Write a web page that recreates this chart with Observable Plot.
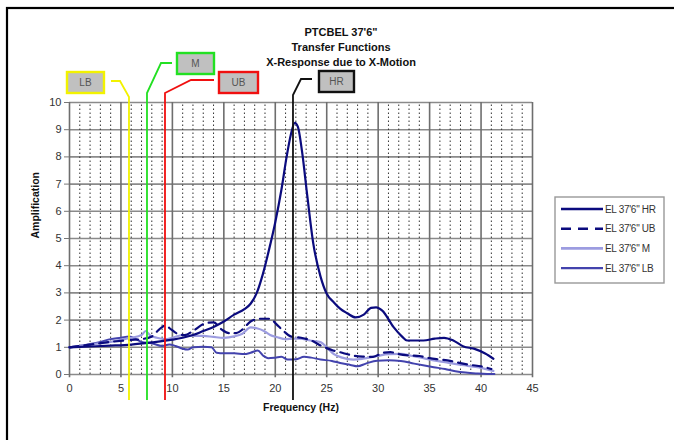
<!DOCTYPE html>
<html><head><meta charset="utf-8">
<script src="https://cdn.jsdelivr.net/npm/d3@7"></script>
<script src="https://cdn.jsdelivr.net/npm/@observablehq/plot@0.6"></script>
<style>body{margin:0;background:#fff}svg{display:block}</style>
</head><body><div id="chart"></div>
<script>
// ---- text ----
const titleLines = ["PTCBEL 37'6\"", "Transfer Functions", "X-Response due to X-Motion"];
const xLabel = "Frequency (Hz)";
const yLabel = "Amplification";

// ---- ticks ----
const xTicks = [0, 5, 10, 15, 20, 25, 30, 35, 40, 45];
const xMinor = d3.range(1, 45).filter(d => d % 5 !== 0);
const yTicks = [0, 1, 2, 3, 4, 5, 6, 7, 8, 9, 10];

// ---- series (frequency Hz, amplification) ----
const seriesNames = ["EL 37'6\" HR", "EL 37'6\" UB", "EL 37'6\" M", "EL 37'6\" LB"];
const hr = [[0,1.0],[2,1.03],[4,1.06],[6,1.1],[8,1.18],[10,1.28],[11,1.35],[12,1.45],[13,1.6],[14,1.75],[15,1.95],[16,2.2],[17,2.4],[17.6,2.6],[18.2,3.0],[18.8,3.7],[19.4,4.6],[20.0,5.6],[20.6,6.8],[21.1,8.0],[21.5,8.8],[21.9,9.25],[22.2,9.1],[22.6,8.2],[23.1,6.6],[23.7,4.8],[24.4,3.6],[25.0,2.97],[25.7,2.65],[26.3,2.42],[27.0,2.25],[27.8,2.1],[28.6,2.2],[29.3,2.45],[29.8,2.47],[30.4,2.35],[31.5,1.74],[32.3,1.4],[32.8,1.25],[34.4,1.25],[35.5,1.32],[36.4,1.35],[37.3,1.25],[38.3,1.03],[39.3,0.95],[40.4,0.77],[41.2,0.58]];
const ub = [[0,1.0],[2,1.1],[4,1.2],[6,1.27],[7,1.3],[8,1.4],[8.7,1.65],[9.3,1.8],[9.9,1.65],[10.5,1.5],[11.2,1.45],[12,1.6],[13,1.85],[14,1.92],[14.8,1.65],[15.5,1.52],[16.2,1.52],[16.8,1.65],[17.6,1.95],[18.5,2.05],[19.5,2.05],[20.1,1.85],[20.8,1.6],[21.5,1.4],[22.5,1.35],[23.5,1.25],[24.5,1.05],[25.5,0.9],[26.5,0.8],[27.5,0.7],[28.5,0.66],[29.5,0.65],[30.5,0.8],[31.2,0.82],[32,0.75],[33,0.7],[34,0.68],[35,0.6],[36,0.55],[37,0.5],[38,0.42],[39,0.35],[40,0.3],[41,0.2]];
const mid = [[0,1.0],[1,1.05],[2,1.1],[3,1.15],[4,1.2],[5,1.28],[6,1.35],[7,1.45],[7.4,1.6],[7.8,1.45],[8.5,1.35],[9.3,1.3],[10,1.35],[11,1.45],[12,1.42],[13,1.42],[14,1.38],[15,1.35],[16,1.4],[16.8,1.5],[17.6,1.73],[18.2,1.7],[18.9,1.6],[19.5,1.45],[20.2,1.37],[21,1.3],[21.8,1.32],[22.4,1.32],[23.4,1.25],[24.4,1.19],[25,1.0],[25.7,0.75],[26.5,0.62],[27.6,0.55],[28.5,0.58],[29.9,0.68],[31,0.75],[32.2,0.76],[33.3,0.68],[34.4,0.6],[35.4,0.52],[36.5,0.45],[37.6,0.38],[38.7,0.32],[39.8,0.26],[40.5,0.2],[41.2,0.13]];
const lb = [[0,1.0],[1,1.05],[2,1.12],[3,1.2],[4,1.3],[5,1.35],[5.8,1.4],[6.5,1.3],[7,1.2],[8,1.15],[9,1.05],[9.7,1.1],[10.3,1.05],[11,0.95],[11.5,0.92],[12,1.0],[13,1.02],[13.8,1.0],[14.3,0.8],[15,0.78],[16,0.78],[17,0.75],[17.6,0.8],[18.3,0.88],[18.8,0.7],[19.3,0.6],[20,0.62],[20.6,0.65],[21.2,0.55],[22,0.56],[22.8,0.65],[23.5,0.62],[24.4,0.55],[25.5,0.5],[26.3,0.42],[27.3,0.35],[28,0.3],[28.8,0.4],[29.9,0.51],[31,0.52],[32.2,0.5],[33.5,0.4],[34.5,0.33],[35.4,0.27],[36.5,0.2],[37.5,0.12],[38.5,0.07],[39.5,0.04],[40.6,0.02],[41.3,0.02]];

// ---- marker annotations ----
const markerLabels = ["LB", "M", "UB", "HR"];
const markerFreqs = [5.83, 7.58, 9.33, 21.77];

// ---- styles ----
const seriesStyles = [
  {stroke: "#0b0b7e", strokeWidth: 2.2, dash: null},
  {stroke: "#0b0b7e", strokeWidth: 2.2, dash: "9,6"},
  {stroke: "#9c9ce0", strokeWidth: 2.2, dash: null},
  {stroke: "#4343ad", strokeWidth: 2.0, dash: null}
];
const markerColors = ["#f2f200", "#22e022", "#f01010", "#111111"];
// leader geometry in pixels, relative to the marker x and the top of the plot
const leaderLayout = [
  {top: -5, bx: -9,  by: -21, ex: -18, boxX: -62, boxY: -30, boxW: 37, boxH: 21},
  {top: -9, bx: 14,  by: -39, ex: 25,  boxX: 30,  boxY: -49, boxW: 37, boxH: 21},
  {top: -9, bx: 26,  by: -22, ex: 49,  boxX: 54,  boxY: -30, boxW: 39, boxH: 21},
  {top: -7, bx: 8,   by: -23, ex: 19,  boxX: 26,  boxY: -31, boxW: 35, boxH: 21}
];

const font = "'Liberation Sans', Arial, sans-serif";
const allSeries = [hr, ub, mid, lb];
const rows = allSeries.flatMap((s, i) => s.map(([f, a]) => ({f, a, k: i})));

function overlay(index, scales, values, dimensions) {
  const x = scales.x, y = scales.y;
  const g = d3.create("svg:g").style("font-family", font).attr("text-anchor", "start");
  // outer border
  g.append("rect").attr("x", 7).attr("y", 8).attr("width", 720).attr("height", 520)
    .attr("fill", "none").attr("stroke", "#000").attr("stroke-width", 2.2);
  const top = y(10), bottom = y(0);
  markerFreqs.forEach((f, i) => {
    const L = leaderLayout[i], px = x(f), c = markerColors[i];
    g.append("path")
      .attr("d", `M${px},${bottom + 26}V${top + L.top}L${px + L.bx},${top + L.by}H${px + L.ex}`)
      .attr("fill", "none").attr("stroke", c).attr("stroke-width", 1.8);
    g.append("rect").attr("x", px + L.boxX).attr("y", top + L.boxY)
      .attr("width", L.boxW).attr("height", L.boxH)
      .attr("fill", "#c0c0c0").attr("stroke", c).attr("stroke-width", 2.4);
    g.append("text").attr("x", px + L.boxX + L.boxW / 2).attr("y", top + L.boxY + L.boxH / 2 + 3.5)
      .attr("text-anchor", "middle").attr("font-size", 10).attr("fill", "#555")
      .text(markerLabels[i]);
  });
  // legend
  const lx = 555, ly = 197;
  g.append("rect").attr("x", lx).attr("y", ly).attr("width", 109).attr("height", 86)
    .attr("fill", "#fff").attr("stroke", "#999").attr("stroke-width", 1.4);
  seriesNames.forEach((name, i) => {
    const yy = ly + 12 + i * 19.7, st = seriesStyles[i];
    g.append("line").attr("x1", lx + 6).attr("x2", lx + 48).attr("y1", yy).attr("y2", yy)
      .attr("stroke", st.stroke).attr("stroke-width", st.strokeWidth + 0.4)
      .attr("stroke-dasharray", st.dash ? "10,7" : null);
    g.append("text").attr("x", lx + 50).attr("y", yy + 3.6).attr("font-size", 10)
      .attr("text-anchor", "start")
      .attr("fill", "#333").attr("letter-spacing", -0.3).text(name);
  });
  return g.node();
}

const chart = Plot.plot({
  width: 674, height: 440,
  marginLeft: 69, marginRight: 142, marginTop: 102, marginBottom: 66,
  style: {fontFamily: font, fontSize: "11px", color: "#222", background: "#fff"},
  x: {domain: [0, 45], axis: null},
  y: {domain: [0, 10], axis: null},
  marks: [
    Plot.ruleY(yTicks, {stroke: "#8a8a8a", strokeWidth: 1.6}),
    Plot.ruleX(xMinor, {y1: 0, y2: 10, stroke: "#333", strokeWidth: 1, strokeDasharray: "1.5,2.5"}),
    Plot.ruleX(xTicks, {y1: -0.12, y2: 10, stroke: "#6e6e6e", strokeWidth: 1.6}),
    Plot.axisX(xTicks, {tickSize: 0, tickPadding: 10, fontSize: 11, fill: "#333", label: null}),
    Plot.axisY(yTicks, {tickSize: 5, tickPadding: 3, fontSize: 11, fill: "#333", stroke: "#777", label: null}),
    Plot.text([xLabel], {frameAnchor: "bottom", dy: 36, fontWeight: "bold", fontSize: 10.5, fill: "#111"}),
    Plot.text([yLabel], {frameAnchor: "left", dx: -34, rotate: -90, fontWeight: "bold", fontSize: 10.5, fill: "#111"}),
    Plot.text([titleLines.join("\n")], {frameAnchor: "top", dx: 40, dy: -56, lineAnchor: "middle", lineHeight: 1.35, fontWeight: "bold", fontSize: 11, fill: "#111"}),
    ...[3, 2, 1, 0].map(k => Plot.line(rows.filter(r => r.k === k), {
      x: "f", y: "a", curve: "monotone-x",
      stroke: seriesStyles[k].stroke, strokeWidth: seriesStyles[k].strokeWidth,
      strokeDasharray: seriesStyles[k].dash || undefined
    })),
    overlay
  ]
});
document.getElementById("chart").append(chart);
</script>
</body></html>
